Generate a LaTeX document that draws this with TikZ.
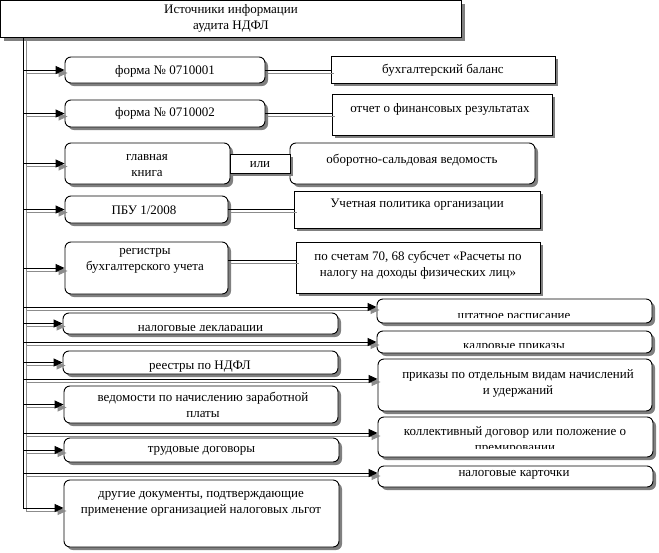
\documentclass[tikz,border=0pt]{standalone}
\usepackage{fontspec}
\setmainfont{Liberation Serif}
\usetikzlibrary{arrows.meta,shadows,calc}
\begin{document}
\begin{tikzpicture}[x=1pt,y=-1pt,
  base/.style={draw=black,line width=0.9pt,fill=white,inner sep=0pt,
    drop shadow={shadow xshift=3pt,shadow yshift=-3pt,fill=black!50,opacity=1}},
  rbox/.style={base,rounded corners=6pt},
  sbox/.style={base},
  lbl/.style={inner sep=0pt,font=\fontsize{13}{16}\selectfont,align=center},
  shl/.style={preaction={draw=black!45,line width=0.9pt,transform canvas={shift={(3pt,-3pt)}}}},
  conn/.style={shl,draw=black,line width=0.9pt},
  arr/.style={conn,-{Triangle[length=9pt,width=8pt]}}
]
\useasboundingbox (0,0) rectangle (659,552);

% boxes
\node[sbox,minimum width=461pt,minimum height=37pt] (head) at (231,19) {};
\node[rbox,minimum width=200pt,minimum height=26pt] (f1) at (165,70) {};
\node[rbox,minimum width=200pt,minimum height=27pt] (f2) at (165,113.5) {};
\node[rbox,minimum width=165pt,minimum height=41pt] (gk) at (147.5,163.5) {};
\node[rbox,minimum width=245pt,minimum height=41pt] (osv) at (412.5,163.5) {};
\node[sbox,minimum width=60pt,minimum height=19pt] (ili) at (260,163.5) {};
\node[rbox,minimum width=163pt,minimum height=27pt] (pbu) at (146.5,209.5) {};
\node[rbox,minimum width=163pt,minimum height=52pt] (reg) at (146.5,268) {};
\node[sbox,minimum width=224pt,minimum height=27pt] (bal) at (443,69.5) {};
\node[sbox,minimum width=220pt,minimum height=41pt] (otch) at (442,114.5) {};
\node[sbox,minimum width=246pt,minimum height=37pt] (uchet) at (417,209.5) {};
\node[sbox,minimum width=244pt,minimum height=51pt] (schet) at (418,267.5) {};
\node[rbox,minimum width=275pt,minimum height=21pt] (nalog) at (200.5,323.5) {};
\node[rbox,minimum width=275pt,minimum height=23pt] (reestr) at (200.5,362.5) {};
\node[rbox,minimum width=274pt,minimum height=37pt] (ved) at (201,404.5) {};
\node[rbox,minimum width=275pt,minimum height=24pt] (trud) at (201.5,450) {};
\node[rbox,minimum width=275pt,minimum height=67pt] (drug) at (201.5,513.5) {};
\node[rbox,minimum width=275pt,minimum height=24pt] (shtat) at (514.5,311) {};
\node[rbox,minimum width=275pt,minimum height=22pt] (kadr) at (514.5,342) {};
\node[rbox,minimum width=274pt,minimum height=52pt] (prik) at (515,385) {};
\node[rbox,minimum width=275pt,minimum height=40pt] (koll) at (515.5,437) {};
\node[rbox,minimum width=275pt,minimum height=21pt] (kart) at (515.5,476.5) {};

% texts
\node[lbl] (thead) at (231,18) {Источники информации\\аудита НДФЛ};
\node[lbl] (tf1) at (165,71) {форма № 0710001};
\node[lbl] (tf2) at (165,113) {форма № 0710002};
\node[lbl] (tgk) at (147,166) {главная\\книга};
\node[lbl] (tili) at (260,165) {или};
\node[lbl] (tosv) at (412,160) {оборотно-сальдовая ведомость};
\node[lbl] (tpbu) at (144,210) {ПБУ 1/2008};
\node[lbl] (treg) at (145,261) {регистры\\бухгалтерского учета};
\node[lbl] (tbal) at (443,70) {бухгалтерский баланс};
\node[lbl] (totch) at (440,109) {отчет о финансовых результатах};
\node[lbl] (tuchet) at (417,205) {Учетная политика организации};
\node[lbl] (tschet) at (418,265.5) {по счетам 70, 68 субсчет «Расчеты по\\налогу на доходы физических лиц»};
\node[lbl] (treestr) at (200,367) {реестры по НДФЛ};
\node[lbl] (tved) at (203,405) {ведомости по начислению заработной\\платы};
\node[lbl] (ttrud) at (201.5,451) {трудовые договоры};
\node[lbl] (tdrug) at (201,503.5) {другие документы, подтверждающие\\применение организацией налоговых льгот};
\node[lbl] (tprik) at (518,383) {приказы по отдельным видам начислений\\и удержаний};
\node[lbl] (tkart) at (514,475) {налоговые карточки};
\begin{scope}
  \clip (63,313) rectangle (338,330);
  \node[lbl,anchor=base] (tnalog) at (200.5,331) {налоговые декларации};
\end{scope}
\begin{scope}
  \clip (377,299) rectangle (652,317);
  \node[lbl,anchor=base] (tshtat) at (514,319) {штатное расписание};
\end{scope}
\begin{scope}
  \clip (377,331) rectangle (652,347);
  \node[lbl,anchor=base] (tkadr) at (514,349) {кадровые приказы};
\end{scope}
\begin{scope}
  \clip (378,417) rectangle (653,448);
  \node[lbl] (tkoll) at (515,440) {коллективный договор или положение о\\премировании};
\end{scope}

% trunk
\coordinate (tt) at (23,38);
\coordinate (tb) at (23,508);
\draw[arr] (tt) -- (tb) -- (tb -| drug.west);

% left arrows
\foreach \b in {f1,f2,gk,pbu,reg,nalog,reestr,ved,trud}
  \draw[arr] (\b.west -| tt) -- (\b.west);

% right arrows
\coordinate (r1) at (23,307);
\coordinate (r2) at (23,342);
\coordinate (r3) at (23,379);
\coordinate (r4) at (23,433);
\coordinate (r5) at (23,473);
\draw[arr] (r1) -- (r1 -| shtat.west);
\draw[arr] (r2) -- (r2 -| kadr.west);
\draw[arr] (r3) -- (r3 -| prik.west);
\draw[arr] (r4) -- (r4 -| koll.west);
\draw[arr] (r5) -- (r5 -| kart.west);

% left-right connectors
\draw[conn] (f1.east) -- (f1.east -| bal.west);
\draw[conn] (f2.east) -- (f2.east -| otch.west);
\draw[conn] (pbu.east) -- (pbu.east -| uchet.west);
\coordinate (rc) at ($(reg.east)+(0,-8)$);
\draw[conn] (rc) -- (rc -| schet.west);
\end{tikzpicture}
\end{document}
